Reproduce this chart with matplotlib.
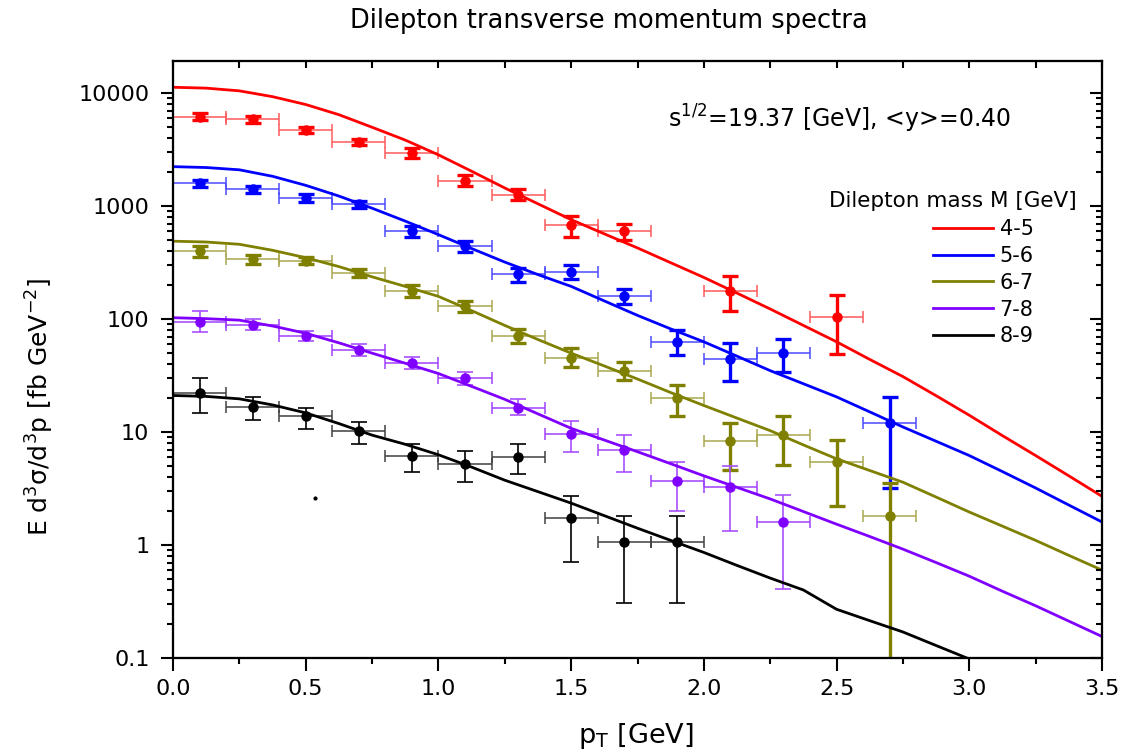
import matplotlib
matplotlib.use("agg")
import matplotlib.pyplot as plt
import numpy as np
from matplotlib.ticker import MultipleLocator, LogLocator, FuncFormatter, NullFormatter, FixedLocator

# ---- theory curves (every 0.125 GeV) ----
pt_curve = [0.0, 0.125, 0.25, 0.375, 0.5, 0.625, 0.75, 0.875, 1.0, 1.125, 1.25, 1.375,
            1.5, 1.625, 1.75, 1.875, 2.0, 2.125, 2.25, 2.375, 2.5, 2.625, 2.75, 2.875,
            3.0, 3.125, 3.25, 3.375, 3.5]
curve_45 = [11300, 11100, 10500, 9330, 7950, 6460, 5000, 3850, 2850, 2040, 1450, 1050,
            760, 569, 427, 316, 234, 170, 123, 88, 63, 44, 31, 21, 14.1, 9.3, 6.2, 4.1, 2.7]
curve_56 = [2240, 2200, 2100, 1840, 1530, 1230, 960, 738, 560, 422, 320, 248,
            195, 145, 108, 82, 63, 47, 35, 26.8, 20.5, 15.1, 11.1, 8.3, 6.2, 4.47, 3.2, 2.26, 1.6]
curve_67 = [490, 482, 460, 407, 350, 292, 237, 195, 159, 119, 88, 66,
            50, 38.5, 29.5, 22.4, 17.2, 13.3, 10.3, 7.7, 5.8, 4.57, 3.6, 2.66, 1.96, 1.47, 1.1, 0.81, 0.6]
curve_78 = [103, 101, 98, 87, 75, 61.7, 50, 40.7, 33, 25.4, 19.5, 14.5,
            10.8, 8.5, 6.7, 5.25, 4.1, 3.24, 2.56, 1.98, 1.53, 1.19, 0.92, 0.70, 0.53, 0.39, 0.29, 0.212, 0.155]
curve_89 = [21.1, 20.7, 19.7, 17.4, 14.8, 11.9, 9.4, 7.8, 6.3, 4.9, 3.75, 2.97,
            2.35, 1.82, 1.41, 1.10, 0.86, 0.66, 0.51, 0.40, 0.27, 0.214, 0.17, 0.129, 0.098, 0.074, 0.055, 0.041, 0.03]

# ---- data points: value, lower and upper end of error bar ----
x_45 = [0.1, 0.3, 0.5, 0.7, 0.9, 1.1, 1.3, 1.5, 1.7, 2.1, 2.5]
y_45 = [6200, 5900, 4750, 3700, 2950, 1680, 1260, 680, 600, 178, 105]
lo_45 = [5800, 5500, 4450, 3450, 2650, 1500, 1130, 530, 500, 117, 49]
hi_45 = [6650, 6300, 5050, 3950, 3250, 1880, 1420, 820, 700, 240, 162]

x_56 = [0.1, 0.3, 0.5, 0.7, 0.9, 1.1, 1.3, 1.5, 1.7, 1.9, 2.1, 2.3, 2.7]
y_56 = [1600, 1420, 1180, 1040, 600, 440, 250, 260, 160, 63, 44, 50, 12]
lo_56 = [1480, 1320, 1090, 960, 530, 390, 215, 228, 136, 48, 28.6, 34, 3.2]
hi_56 = [1720, 1520, 1270, 1120, 670, 490, 285, 300, 185, 80, 61, 67, 20.5]

x_67 = [0.1, 0.3, 0.5, 0.7, 0.9, 1.1, 1.3, 1.5, 1.7, 1.9, 2.1, 2.3, 2.5, 2.7]
y_67 = [400, 340, 330, 255, 178, 130, 71, 45, 35, 20, 8.3, 9.4, 5.4, 1.8]
lo_67 = [355, 310, 305, 235, 158, 115, 62, 38, 29, 14, 4.6, 5.1, 2.2, 0.03]
hi_67 = [445, 370, 355, 278, 200, 146, 82, 55, 42, 26, 12.1, 13.9, 8.5, 3.55]

x_78 = [0.1, 0.3, 0.5, 0.7, 0.9, 1.1, 1.3, 1.5, 1.7, 1.9, 2.1, 2.3]
y_78 = [95, 89, 71, 53, 41, 30, 16.5, 9.6, 7.0, 3.7, 3.25, 1.6]
lo_78 = [77, 80, 64, 47, 36.5, 26, 14.2, 6.7, 4.45, 2.0, 1.33, 0.41]
hi_78 = [117, 100, 79, 60, 46.5, 34, 19.5, 12.6, 9.5, 5.4, 5.0, 2.8]

x_89 = [0.1, 0.3, 0.5, 0.7, 0.9, 1.1, 1.3, 1.5, 1.7, 1.9]
y_89 = [22, 16.8, 14, 10.2, 6.2, 5.2, 6.0, 1.72, 1.06, 1.06]
lo_89 = [14.8, 12.9, 10.7, 7.9, 4.44, 3.6, 4.27, 0.71, 0.305, 0.305]
hi_89 = [30.4, 20.6, 16.5, 12.4, 7.9, 6.8, 7.9, 2.72, 1.81, 1.81]

stray_x = [0.536]
stray_y = [2.6]

labels = ["4-5", "5-6", "6-7", "7-8", "8-9"]
colors = ["#ff0000", "#0000ff", "#808000", "#8000ff", "#000000"]
xbar_colors = ["#ff5a5a", "#4a4aff", "#a8a850", "#a040ff", "#404040"]
ybar_colors = ["#ff0000", "#0000ff", "#808000", "#a850ff", "#000000"]
ybar_width = [2.4, 2.4, 2.4, 1.2, 1.2]

curves = [curve_45, curve_56, curve_67, curve_78, curve_89]
points = [(x_45, y_45, lo_45, hi_45), (x_56, y_56, lo_56, hi_56), (x_67, y_67, lo_67, hi_67),
          (x_78, y_78, lo_78, hi_78), (x_89, y_89, lo_89, hi_89)]

W, H = 1135, 754
fig = plt.figure(figsize=(W / 100, H / 100), dpi=100)
ax = fig.add_axes([173 / W, 1 - 658 / H, (1102 - 173) / W, (658 - 61) / H])

lines = []
for i in range(5):
    x, y, lo, hi = [np.array(a, dtype=float) for a in points[i]]
    ax.errorbar(x, y, xerr=0.1, fmt="none", ecolor=xbar_colors[i], elinewidth=1.1,
                capsize=4, capthick=1.1, zorder=2)
    ax.errorbar(x, y, yerr=[y - lo, hi - y], fmt="o", color=colors[i], ms=6.5,
                ecolor=ybar_colors[i], elinewidth=ybar_width[i], capsize=5.5,
                capthick=ybar_width[i], zorder=3)
    ln, = ax.plot(pt_curve, curves[i], "-", color=colors[i], lw=2, label=labels[i], zorder=4)
    lines.append(ln)

ax.plot(stray_x, stray_y, "o", color="black", ms=2)

ax.set_yscale("log")
ax.set_xlim(0, 3.5)
ax.set_ylim(0.1, 1.93e4)

ax.xaxis.set_major_locator(MultipleLocator(0.5))
ax.xaxis.set_minor_locator(MultipleLocator(0.25))
ax.xaxis.set_major_formatter(FuncFormatter(lambda v, p: "%.1f" % v))
ax.yaxis.set_major_locator(FixedLocator([0.1, 1, 10, 100, 1000, 10000]))
ax.yaxis.set_major_formatter(FuncFormatter(lambda v, p: "%g" % v))
ax.yaxis.set_minor_locator(LogLocator(base=10, subs=np.arange(2, 10), numticks=20))
ax.yaxis.set_minor_formatter(NullFormatter())

ax.tick_params(axis="both", which="major", direction="out", length=9, width=1.5,
               labelsize=16, pad=6)
ax.tick_params(axis="both", which="minor", direction="out", length=4.5, width=1.5)
ax.tick_params(axis="y", which="major", pad=8)
for s in ax.spines.values():
    s.set_linewidth(1.5)

# right and top ticks point inward
axr = ax.twinx()
axr.set_yscale("log")
axr.set_ylim(ax.get_ylim())
axr.yaxis.set_major_locator(FixedLocator([0.1, 1, 10, 100, 1000, 10000]))
axr.yaxis.set_minor_locator(LogLocator(base=10, subs=np.arange(2, 10), numticks=20))
axr.tick_params(axis="y", which="major", direction="in", length=9, width=1.5, labelright=False)
axr.tick_params(axis="y", which="minor", direction="in", length=4.5, width=1.5, labelright=False)

axt = ax.twiny()
axt.set_xlim(ax.get_xlim())
axt.xaxis.set_major_locator(MultipleLocator(0.25))
axt.tick_params(axis="x", which="major", direction="in", length=5, width=1.5, labeltop=False)
for a in (axr, axt):
    for s in a.spines.values():
        s.set_linewidth(1.5)

fig.text(609 / W, 1 - 28 / H, "Dilepton transverse momentum spectra", fontsize=18.5,
         ha="center", va="baseline")
fig.text(668 / W, 1 - 128 / H, "s$^{1/2}$=19.37 [GeV], <y>=0.40", fontsize=17,
         ha="left", va="baseline")
fig.text(1077 / W, 1 - 207 / H, "Dilepton mass M [GeV]", fontsize=15.5,
         ha="right", va="baseline")
fig.text(40 / W, 1 - 407 / H, "E d$^3$σ/d$^3$p [fb GeV$^{-2}$]", fontsize=18,
         rotation=90, ha="center", va="center")
fig.text(636 / W, 1 - 743 / H, r"p$_{\mathrm{T}}$ [GeV]", fontsize=19.5,
         ha="center", va="baseline")

ax.legend(handles=lines, loc="upper left", bbox_to_anchor=(933 / W, 1 - 219 / H),
          bbox_transform=fig.transFigure, frameon=False, fontsize=15,
          handlelength=2.9, handletextpad=0.3, labelspacing=0.33,
          borderpad=0, borderaxespad=0)

fig.savefig("out.png", dpi=100)
